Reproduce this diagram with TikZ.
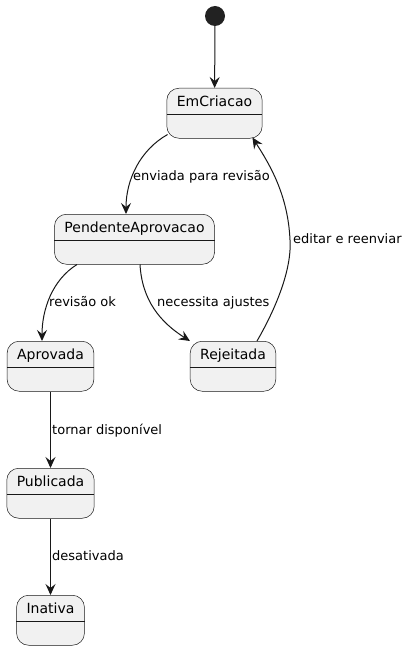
\documentclass[tikz,border=0pt]{standalone}
\usepackage{fontspec}
\setmainfont{DejaVu Sans}
\usepackage{xcolor}
\usetikzlibrary{arrows.meta}
\definecolor{statefill}{HTML}{F1F1F1}
\definecolor{linec}{HTML}{181818}
\definecolor{dotc}{HTML}{222222}

\begin{document}
\begin{tikzpicture}[x=1pt,y=-1pt,
    statebox/.style={draw=linec,fill=statefill,line width=0.5pt,rounded corners=12pt,
      anchor=north,inner xsep=10pt,inner ysep=2pt,text height=16pt,text depth=30pt,
      font=\fontsize{14}{16}\selectfont},
    arr/.style={draw=linec,line width=1pt,-{Stealth[length=11pt,width=10pt,inset=4pt]}},
    lbl/.style={anchor=base west,inner sep=0pt,font=\fontsize{13}{15}\selectfont}]
        \useasboundingbox (0,0) rectangle (408,650);
        \node[circle,fill=dotc,minimum size=20pt,inner sep=0pt] (init) at (215,16) {};
        \node[statebox] (emc) at (214.5,88) {EmCriacao};
        \node[statebox] (pend) at (134.5,214) {PendenteAprovacao};
        \node[statebox] (aprov) at (50.5,341) {Aprovada};
        \node[statebox] (rej) at (233,341) {Rejeitada};
        \node[statebox] (pub) at (50.5,468) {Publicada};
        \node[statebox] (inat) at (50.5,595) {Inativa};
        \foreach \s in {emc,pend,aprov,rej,pub,inat}
            \draw[draw=linec,line width=0.5pt] ([yshift=-26pt]\s.north west) -- ([yshift=-26pt]\s.north east);
        \draw[arr] (init) -- (emc);
        \draw[arr] ([xshift=1pt,yshift=4pt]emc.south west) .. controls (140,150) and (126,180) .. (pend.north -| 126,0);
        \draw[arr] ([xshift=-57.5pt]pend.south) .. controls (52,280) and (42,310) .. ([xshift=-8.5pt]aprov.north);
        \draw[arr] ([xshift=5.5pt]pend.south) .. controls (142,300) and (160,322) .. (rej.north west);
        \draw[arr] ([xshift=24pt]rej.north) .. controls (275,310) and (292,270) .. (290,240)
            .. controls (288,195) and (270,165) .. ([xshift=-10pt,yshift=1pt]emc.south east);
        \draw[arr] (aprov) -- (pub);
        \draw[arr] (pub) -- (inat);
        \node[lbl] (l1) at (133,180) {enviada para revisão};
        \node[lbl] (l2) at (49,306) {revisão ok};
        \node[lbl] (l3) at (157,306) {necessita ajustes};
        \node[lbl] (l4) at (293,243.5) {editar e reenviar};
        \node[lbl] (l5) at (52,434) {tornar disponível};
        \node[lbl] (l6) at (52,560.5) {desativada};
    \end{tikzpicture}
\end{document}
